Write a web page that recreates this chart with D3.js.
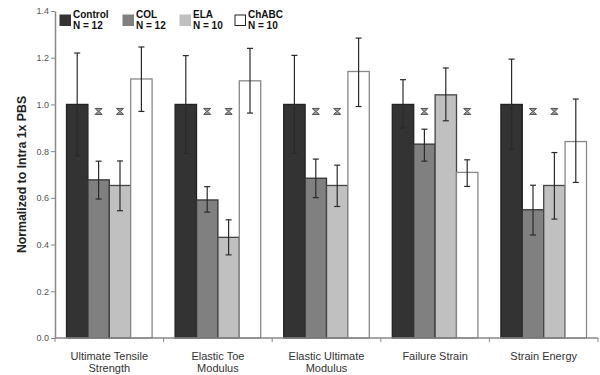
<!DOCTYPE html>
<html>
<head>
<meta charset="utf-8">
<script src="https://cdn.jsdelivr.net/npm/d3@7"></script>
<style>
body { margin: 0; background: #fff; }
svg { display: block; font-family: "Liberation Sans", Arial, sans-serif; }
</style>
</head>
<body>
<div id="chart"></div>
<script>
// groups along x
var categories = [["Ultimate Tensile", "Strength"], ["Elastic Toe", "Modulus"], ["Elastic Ultimate", "Modulus"], ["Failure Strain"], ["Strain Energy"]];
var series = ["Control", "COL", "ELA", "ChABC"];
var seriesN = ["N = 12", "N = 12", "N = 10", "N = 10"];
var colors = ["#333333", "#808080", "#c0c0c0", "#ffffff"];
var strokes = ["#222222", "#333333", "#444444", "#888888"];

// means, one array per treatment
var control = [1.0, 1.0, 1.0, 1.0, 1.0];
var col = [0.677, 0.591, 0.684, 0.830, 0.549];
var ela = [0.653, 0.431, 0.653, 1.041, 0.653];
var chabc = [1.109, 1.101, 1.141, 0.709, 0.841];
// error bar ends
var controlLo = [0.78, 0.79, 0.79, 0.899, 0.809];
var controlHi = [1.22, 1.209, 1.21, 1.106, 1.194];
var colLo = [0.595, 0.539, 0.601, 0.757, 0.441];
var colHi = [0.757, 0.648, 0.766, 0.894, 0.654];
var elaLo = [0.545, 0.356, 0.563, 0.930, 0.509];
var elaHi = [0.758, 0.506, 0.740, 1.156, 0.794];
var chabcLo = [0.97, 0.963, 0.991, 0.649, 0.666];
var chabcHi = [1.246, 1.240, 1.284, 0.763, 1.023];
// significance marks: [group, series]
var sigMarks = [[0,1],[0,2],[1,1],[1,2],[2,1],[2,2],[3,1],[3,3],[4,1],[4,2]];
var sigLevel = 0.97;
var yTicks = [0, 0.2, 0.4, 0.6, 0.8, 1.0, 1.2, 1.4];

var w = 600, h = 375;
var margin = {left: 55, right: 2, top: 11, bottom: 37};

var means = [control, col, ela, chabc];
var los = [controlLo, colLo, elaLo, chabcLo];
var his = [controlHi, colHi, elaHi, chabcHi];

var svg = d3.select("#chart").append("svg")
	.attr("width", w)
	.attr("height", h);

var x0 = d3.scaleBand()
	.domain(d3.range(categories.length))
	.range([margin.left, w - margin.right])
	.paddingInner(0)
	.paddingOuter(0);
var x1 = d3.scaleBand()
	.domain(d3.range(series.length))
	.range([11.5, x0.bandwidth() - 11.5]);
var y = d3.scaleLinear()
	.domain([0, 1.4])
	.range([h - margin.bottom, margin.top]);

// bars
var rows = [];
categories.forEach(function(c, g){
	series.forEach(function(s, k){
		rows.push({g: g, k: k, v: means[k][g], lo: los[k][g], hi: his[k][g]});
	});
});

svg.selectAll(".bar")
	.data(rows)
	.enter().append("rect")
	.attr("class", "bar")
	.attr("x", function(d){ return x0(d.g) + x1(d.k); })
	.attr("y", function(d){ return y(d.v); })
	.attr("width", x1.bandwidth())
	.attr("height", function(d){ return y(0) - y(d.v); })
	.style("fill", function(d){ return colors[d.k]; })
	.style("stroke", function(d){ return strokes[d.k]; })
	.style("stroke-width", 1.3);

// error bars
var eb = svg.selectAll(".err")
	.data(rows)
	.enter().append("g")
	.attr("class", "err")
	.attr("transform", function(d){ return "translate(" + (x0(d.g) + x1(d.k) + x1.bandwidth()/2) + ",0)"; });
eb.append("line")
	.attr("x1", 0).attr("x2", 0)
	.attr("y1", function(d){ return y(d.lo); })
	.attr("y2", function(d){ return y(d.hi); });
eb.append("line")
	.attr("x1", -3).attr("x2", 3)
	.attr("y1", function(d){ return y(d.lo); })
	.attr("y2", function(d){ return y(d.lo); });
eb.append("line")
	.attr("x1", -3).attr("x2", 3)
	.attr("y1", function(d){ return y(d.hi); })
	.attr("y2", function(d){ return y(d.hi); });
eb.selectAll("line")
	.style("stroke", "#2a2a2a")
	.style("stroke-width", 1.2);

// significance markers (hourglass shaped)
svg.selectAll(".sig")
	.data(sigMarks)
	.enter().append("path")
	.attr("class", "sig")
	.attr("transform", function(d){ return "translate(" + (x0(d[0]) + x1(d[1]) + x1.bandwidth()/2) + "," + y(sigLevel) + ")"; })
	.attr("d", "M-3.5,-3L3.5,-3L0.6,0L3.5,3L-3.5,3L-0.6,0Z")
	.style("stroke", "#444")
	.style("stroke-width", 0.9)
	.style("fill", "#999");

// y axis
var yAxis = svg.append("g")
	.attr("transform", "translate(" + margin.left + ",0)")
	.call(d3.axisLeft(y).tickValues(yTicks).tickFormat(d3.format(".1f")).tickSize(4).tickSizeOuter(0));
yAxis.select(".domain").style("stroke", "#888").style("stroke-width", 1.5);
yAxis.selectAll(".tick line").style("stroke", "#888");
yAxis.selectAll(".tick text").style("fill", "#555").style("font-size", "9px").attr("x", -6);

// x axis
var xAxis = svg.append("g")
	.attr("transform", "translate(0," + y(0) + ")");
xAxis.append("line")
	.attr("x1", margin.left).attr("x2", w - margin.right)
	.attr("y1", 0).attr("y2", 0)
	.style("stroke", "#888").style("stroke-width", 1.5);
xAxis.selectAll(".xt")
	.data(d3.range(categories.length + 1))
	.enter().append("line")
	.attr("x1", function(d){ return margin.left + d * x0.bandwidth(); })
	.attr("x2", function(d){ return margin.left + d * x0.bandwidth(); })
	.attr("y1", 0).attr("y2", 4)
	.style("stroke", "#888");
var xl = xAxis.selectAll(".xl")
	.data(categories)
	.enter().append("text")
	.attr("class", "xl")
	.attr("text-anchor", "middle")
	.attr("x", function(d, i){ return x0(i) + x0.bandwidth()/2; })
	.style("font-size", "11px")
	.style("fill", "#333");
xl.selectAll("tspan")
	.data(function(d){ return d; })
	.enter().append("tspan")
	.attr("x", function(){ return d3.select(this.parentNode).attr("x"); })
	.attr("y", function(d, i){ return 22 + i * 12.3; })
	.text(String);

// y title
svg.append("text")
	.attr("transform", "translate(26," + ((margin.top + h - margin.bottom)/2) + ") rotate(-90)")
	.attr("text-anchor", "middle")
	.style("font-size", "12.3px")
	.style("font-weight", "bold")
	.style("fill", "#222")
	.text("Normalized to Intra 1x PBS");

// legend
var legX = [60, 123, 180, 235];
var leg = svg.selectAll(".leg")
	.data(series)
	.enter().append("g")
	.attr("class", "leg")
	.attr("transform", function(d, i){ return "translate(" + legX[i] + ",15)"; });
leg.append("rect")
	.attr("width", 10.5).attr("height", 10.5)
	.style("fill", function(d, i){ return colors[i]; })
	.style("stroke", function(d, i){ return i == 3 ? "#222" : colors[i]; })
	.style("stroke-width", 1);
leg.append("text")
	.attr("x", 13).attr("y", 3)
	.style("font-size", "10px").style("font-weight", "bold").style("fill", "#111")
	.text(String);
leg.append("text")
	.attr("x", 13).attr("y", 14)
	.style("font-size", "10px").style("font-weight", "bold").style("fill", "#111")
	.text(function(d, i){ return seriesN[i]; });
</script>
</body>
</html>
